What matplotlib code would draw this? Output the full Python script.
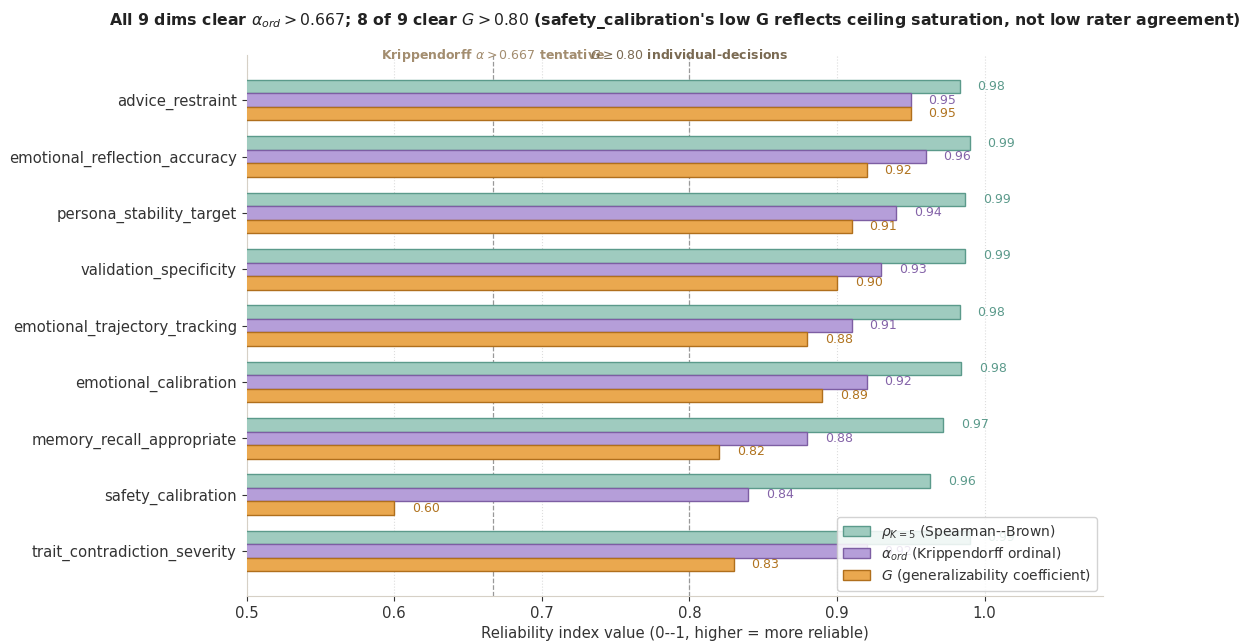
import matplotlib.pyplot as plt
import numpy as np
from matplotlib.transforms import blended_transform_factory

# reliability per dimension, top to bottom as drawn
dims = ["advice_restraint", "emotional_reflection_accuracy", "persona_stability_target",
        "validation_specificity", "emotional_trajectory_tracking", "emotional_calibration",
        "memory_recall_appropriate", "safety_calibration", "trait_contradiction_severity"]
rho_k5 = [0.983, 0.990, 0.987, 0.987, 0.983, 0.984, 0.972, 0.963, 0.990]
alpha_ord = [0.95, 0.96, 0.94, 0.93, 0.91, 0.92, 0.88, 0.84, 0.92]
g_coef = [0.95, 0.92, 0.91, 0.90, 0.88, 0.89, 0.82, 0.60, 0.83]

thresholds = [0.667, 0.80]

plt.rcParams["text.color"] = "#333333"
plt.rcParams["xtick.color"] = "#333333"
plt.rcParams["ytick.color"] = "#333333"
plt.rcParams["axes.labelcolor"] = "#333333"

fig, ax = plt.subplots(figsize=(12.39, 6.41), dpi=100)
fig.subplots_adjust(left=0.199, right=0.89, top=0.914, bottom=0.07)

y = np.arange(len(dims))
h = 0.24

series = [
    (rho_k5, -h, "#9fcbbf", "#5b9a8b", "#5b9a8b", r"$\rho_{K=5}$ (Spearman--Brown)"),
    (alpha_ord, 0, "#b59ed9", "#7d5ea3", "#8463a8", r"$\alpha_{ord}$ (Krippendorff ordinal)"),
    (g_coef, h, "#eaa84f", "#b06f1c", "#b0731f", r"$G$ (generalizability coefficient)"),
]

for vals, off, fc, ec, tc, lab in series:
    ax.barh(y + off, vals, height=h, color=fc, edgecolor=ec, linewidth=1.0, label=lab, zorder=3)
    for yi, v in zip(y, vals):
        ax.text(v + 0.012, yi + off, f"{v:.2f}", va="center", ha="left", fontsize=9, color=tc, zorder=4)

for t in thresholds:
    ax.axvline(t, color="#999999", linestyle="--", linewidth=0.9, zorder=2)

trans = blended_transform_factory(ax.transData, ax.transAxes)
ax.text(0.667, 1.0, r"Krippendorff $\alpha > 0.667$ tentative", transform=trans,
        ha="center", va="center", fontsize=9, fontweight="bold", color="#a38d6f")
ax.text(0.80, 1.0, r"$G \geq 0.80$ individual-decisions", transform=trans,
        ha="center", va="center", fontsize=9, fontweight="bold", color="#7a6a52")

ax.set_yticks(y)
ax.set_yticklabels(dims, fontsize=10.7)
ax.set_ylim(8.8, -0.8)
ax.set_xlim(0.5, 1.08)
ax.set_xticks([0.5, 0.6, 0.7, 0.8, 0.9, 1.0])
ax.tick_params(axis="x", labelsize=10.7)
ax.set_xlabel("Reliability index value (0--1, higher = more reliable)", fontsize=10.7)

ax.grid(axis="x", linestyle=":", color="#dddddd", linewidth=0.8, zorder=0)
ax.spines["top"].set_visible(False)
ax.spines["right"].set_visible(False)
ax.spines["left"].set_color("#d6d0c6")
ax.spines["bottom"].set_color("#d6d0c6")

ax.set_title(r"All 9 dims clear $\alpha_{ord} > 0.667$; 8 of 9 clear $G > 0.80$ "
             "(safety_calibration's low G reflects ceiling saturation, not low rater agreement)",
             fontsize=11.3, fontweight="bold", pad=22, color="#222222")

ax.legend(loc="lower right", fontsize=10, framealpha=0.85, edgecolor="#cccccc",
          labelspacing=0.3, borderaxespad=0.4)

plt.savefig("out.png")
